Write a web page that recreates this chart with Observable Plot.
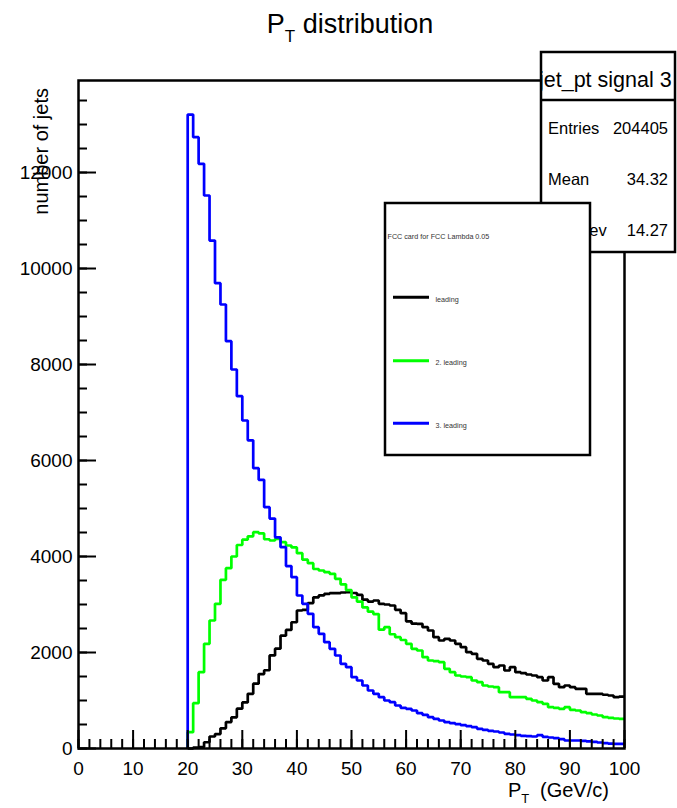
<!DOCTYPE html>
<html>
<head>
<meta charset="utf-8">
<script src="https://cdn.jsdelivr.net/npm/d3@7"></script>
<script src="https://cdn.jsdelivr.net/npm/@observablehq/plot@0.6"></script>
<style>
  html, body { margin: 0; padding: 0; background: #fff; }
  #chart svg { display: block; }
</style>
</head>
<body>
<div id="chart"></div>
<script>
// ---- data (bin lower edges 20..99 GeV/c, 1 GeV/c wide bins) ----
const firstBin = 20;
const leading = [0, 20, 30, 130, 250, 300, 420, 550, 650, 830,
  960, 1140, 1350, 1550, 1630, 1940, 2080, 2350, 2470, 2630,
  2875, 2890, 3030, 3150, 3190, 3220, 3236, 3236, 3250, 3257,
  3240, 3200, 3100, 3060, 3083, 3014, 3000, 2979, 2890, 2820,
  2650, 2600, 2597, 2528, 2458, 2319, 2250, 2285, 2250, 2181,
  2111, 2007, 1972, 1868, 1833, 1764, 1694, 1729, 1625, 1694,
  1590, 1569, 1542, 1521, 1486, 1417, 1486, 1347, 1278, 1313,
  1278, 1243, 1243, 1139, 1139, 1139, 1120, 1104, 1069, 1080];
const secondLeading = [340, 944, 1590, 2181, 2667, 3014, 3514, 3757, 4000, 4240,
  4350, 4420, 4507, 4480, 4360, 4333, 4368, 4299, 4229, 4190,
  4070, 3935, 3860, 3740, 3708, 3674, 3639, 3535, 3420, 3300,
  3150, 3060, 2940, 2850, 2800, 2475, 2528, 2380, 2320, 2260,
  2180, 2076, 2042, 1903, 1833, 1819, 1799, 1660, 1590, 1521,
  1500, 1486, 1417, 1382, 1313, 1292, 1278, 1174, 1174, 1069,
  1069, 1069, 1035, 1000, 965, 931, 861, 847, 826, 861,
  806, 792, 757, 736, 708, 688, 653, 639, 625, 618];
const thirdLeading = [13208, 12736, 12181, 11521, 10583, 9694, 9250, 8486, 7896, 7340,
  6833, 6420, 5840, 5597, 5028, 4790, 4400, 4194, 3800, 3570,
  3188, 3014, 2806, 2528, 2389, 2215, 2076, 1938, 1764, 1694,
  1486, 1417, 1313, 1208, 1139, 1069, 1000, 965, 896, 848,
  826, 792, 736, 701, 653, 618, 583, 549, 528, 507,
  486, 465, 444, 410, 389, 368, 354, 333, 306, 292,
  278, 264, 257, 250, 278, 243, 229, 215, 194, 167,
  167, 167, 160, 150, 140, 125, 110, 100, 95, 95];

const seriesNames = ["leading", "2. leading", "3. leading"];
const seriesColors = ["#000000", "#00ff00", "#0000ff"];

const xTicks = [0, 10, 20, 30, 40, 50, 60, 70, 80, 90, 100];
const yTicks = [0, 2000, 4000, 6000, 8000, 10000, 12000];
const xMinorTicks = d3.range(0, 101, 2);
const yMinorTicks = d3.range(0, 13901, 500);

const statsLabels = ["Entries", "Mean", "Std Dev"];
const statsValues = ["204405", "34.32", "14.27"];
const statsTitle = "jet_pt signal 3";
const legendHeader = "FCC card for FCC Lambda 0.05";

// step outline points for a histogram
function outline(values, name) {
  const pts = [{x: firstBin, y: 0, s: name}];
  values.forEach((v, i) => pts.push({x: firstBin + i, y: v, s: name}));
  pts.push({x: firstBin + values.length, y: values[values.length - 1], s: name});
  return pts;
}
const allSeries = [leading, secondLeading, thirdLeading];

const font = "'Liberation Sans', Arial, Helvetica, sans-serif";

const chart = Plot.plot({
  width: 677,
  height: 808,
  marginLeft: 78,
  marginRight: 53,
  marginTop: 80,
  marginBottom: 60,
  style: {fontFamily: font, background: "#fff", color: "#000", overflow: "visible"},
  x: {domain: [0, 100]},
  y: {domain: [0, 13917]},
  marks: [
    ...allSeries.map((vals, k) =>
      Plot.line(outline(vals, seriesNames[k]), {
        x: "x", y: "y", curve: "step-after",
        stroke: seriesColors[k], strokeWidth: 2.7,
        strokeLinejoin: "miter", strokeLinecap: "butt"
      })),
    Plot.axisX(xMinorTicks, {tickSize: -9, fill: "none", strokeWidth: 2, label: null}),
    Plot.axisX(xTicks, {tickSize: -18, fill: "none", strokeWidth: 2, label: null}),
    Plot.axisX(xTicks, {tickSize: 0, tickPadding: 13, fontSize: 19, label: null, tickFormat: d => String(d)}),
    Plot.axisY(yMinorTicks, {tickSize: -9, fill: "none", strokeWidth: 2, label: null}),
    Plot.axisY(yTicks, {tickSize: -18, fill: "none", strokeWidth: 2, label: null}),
    Plot.axisY(yTicks, {tickSize: 0, tickPadding: 6, fontSize: 19, label: null, tickFormat: d => String(d)}),
    Plot.frame({stroke: "#000", strokeWidth: 2.5})
  ]
});
document.getElementById("chart").appendChild(chart);

// ---- annotations (title, axis titles, stats box, legend) ----
const svg = d3.select(chart);
const ann = svg.append("g").attr("font-family", font).attr("fill", "#000")
  .attr("text-anchor", "start");

// Title
const t = ann.append("text").attr("x", 350).attr("y", 33)
  .attr("text-anchor", "middle").attr("font-size", 27);
t.append("tspan").text("P");
t.append("tspan").attr("font-size", 17).attr("dy", 9).text("T");
t.append("tspan").attr("dy", -9).text(" distribution");

// X title
const xt = ann.append("text").attr("x", 508).attr("y", 797).attr("font-size", 20)
  .attr("text-anchor", "start");
xt.append("tspan").text("P");
xt.append("tspan").attr("font-size", 13).attr("dy", 6).text("T");
xt.append("tspan").attr("dy", -6).attr("x", 540).text("(GeV/c)");

// Y title
ann.append("text")
  .attr("transform", "translate(48,88) rotate(-90)")
  .attr("text-anchor", "end").attr("font-size", 20)
  .text("number of jets");

// Stats box
const sb = ann.append("g");
sb.append("clipPath").attr("id", "statsClip")
  .append("rect").attr("x", 542).attr("y", 52).attr("width", 134).attr("height", 48);
sb.append("rect").attr("x", 541).attr("y", 52).attr("width", 134).attr("height", 200)
  .attr("fill", "#fff").attr("stroke", "#000").attr("stroke-width", 2.5);
sb.append("line").attr("x1", 541).attr("x2", 675).attr("y1", 100).attr("y2", 100)
  .attr("stroke", "#000").attr("stroke-width", 2.5);
sb.append("text").attr("clip-path", "url(#statsClip)").attr("text-anchor", "start")
  .attr("x", 539).attr("y", 87).attr("font-size", 21.5).text(statsTitle);
statsLabels.forEach((lab, i) => {
  const yy = 134 + i * 51;
  sb.append("text").attr("x", 548).attr("y", yy).attr("font-size", 16.5)
    .attr("text-anchor", "start").text(lab);
  sb.append("text").attr("x", 668).attr("y", yy).attr("font-size", 16.5)
    .attr("text-anchor", "end").text(statsValues[i]);
});

// Legend box
const lg = ann.append("g");
lg.append("rect").attr("x", 385).attr("y", 203).attr("width", 205).attr("height", 252)
  .attr("fill", "#fff").attr("stroke", "#000").attr("stroke-width", 2.5);
lg.append("text").attr("x", 387.5).attr("y", 239).attr("font-size", 7.2)
  .attr("text-anchor", "start").attr("fill", "#333").text(legendHeader);
seriesNames.forEach((name, i) => {
  const yy = [297.3, 360.7, 423.3][i];
  lg.append("line").attr("x1", 393).attr("x2", 429).attr("y1", yy).attr("y2", yy)
    .attr("stroke", seriesColors[i]).attr("stroke-width", 3);
  lg.append("text").attr("x", 435.5).attr("y", yy + 4.5).attr("font-size", 7.2)
    .attr("text-anchor", "start").attr("fill", "#333").text(name);
});
</script>
</body>
</html>
